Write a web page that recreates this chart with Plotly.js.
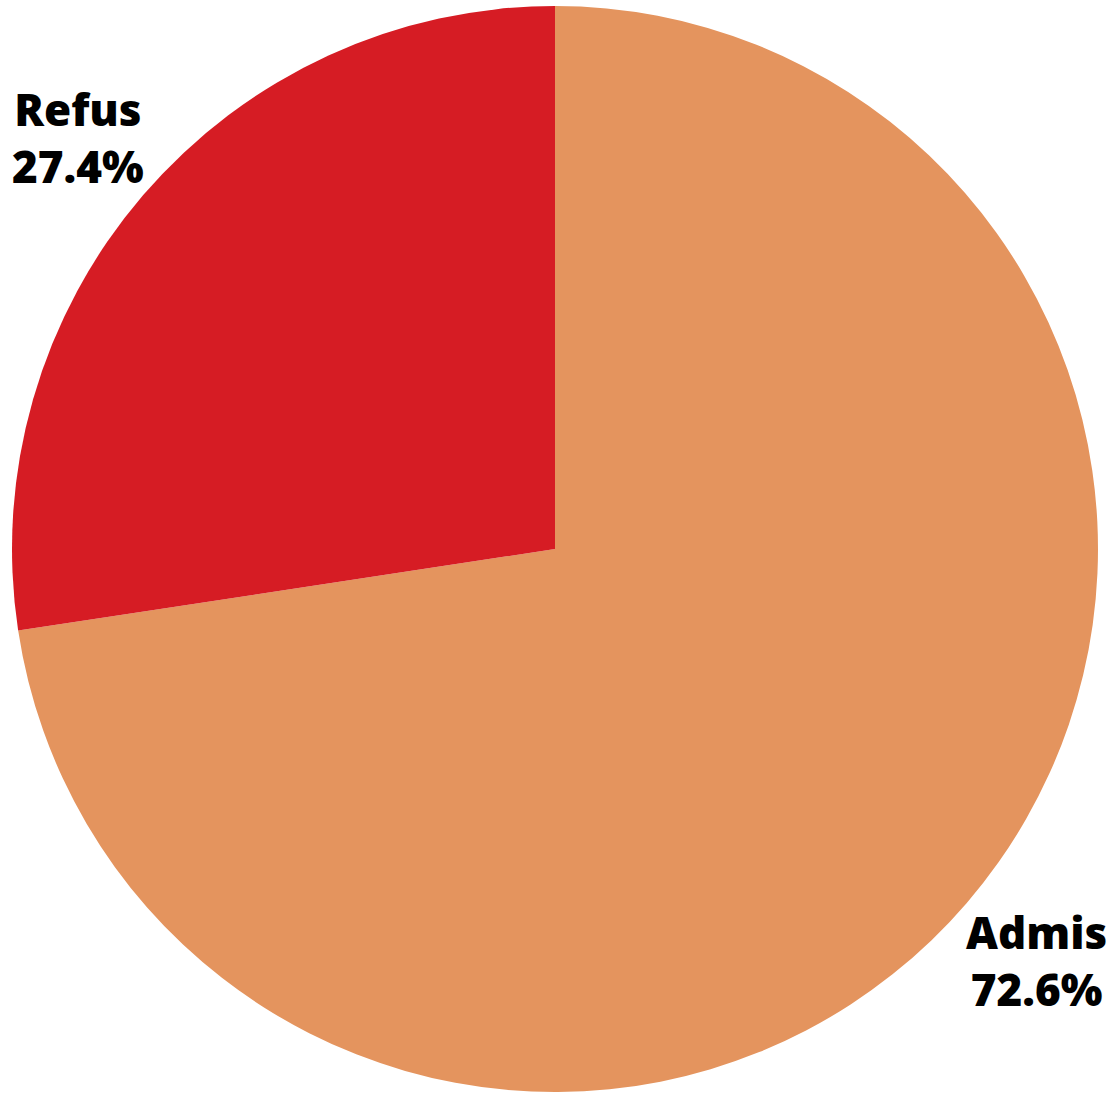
<!DOCTYPE html>
<html>
<head>
<meta charset="utf-8">
<script src="https://cdn.plot.ly/plotly-3.0.1.min.js"></script>
<style>html,body{margin:0;padding:0;background:#fff;}#chart{width:1107px;height:1094px;}</style>
</head>
<body>
<div id="chart"></div>
<script>
const labels = ["Admis", "Refus"];
const values = [72.6, 27.4];
const colors = ["#E4945E", "#D61C24"];

// plot area size (px) used to convert label offset radius to paper units
const W = 1104, H = 1086, R_LABEL = 539;
const total = values.reduce((a, b) => a + b, 0);
let cum = 0;
const annotations = labels.map((lab, i) => {
  const mid = (cum + values[i] / 2) / total;
  cum += values[i];
  const th = 2 * Math.PI * mid; // clockwise from 12 o'clock
  const s = Math.sin(th), c = Math.cos(th);
  return {
    xref: "paper", yref: "paper",
    x: 0.5 + R_LABEL * s / W,
    y: 0.5 + R_LABEL * c / H,
    xanchor: s >= 0 ? "left" : "right",
    yanchor: c >= 0 ? "bottom" : "top",
    align: "center",
    showarrow: false,
    text: lab + "<br>" + (100 * values[i] / total).toFixed(1) + "%",
    font: {family: "Open Sans", size: 44, color: "#000", weight: 800}
  };
});

Plotly.newPlot("chart", [{
  type: "pie",
  labels: labels,
  values: values,
  sort: false,
  direction: "clockwise",
  rotation: 0,
  marker: {colors: colors, line: {width: 0}},
  textinfo: "none",
  showlegend: false,
  hoverinfo: "skip"
}], {
  width: 1107,
  height: 1094,
  margin: {l: 3, r: 0, t: 6, b: 2},
  paper_bgcolor: "#fff",
  showlegend: false,
  annotations: annotations
}, {displayModeBar: false, staticPlot: true});
</script>
</body>
</html>
